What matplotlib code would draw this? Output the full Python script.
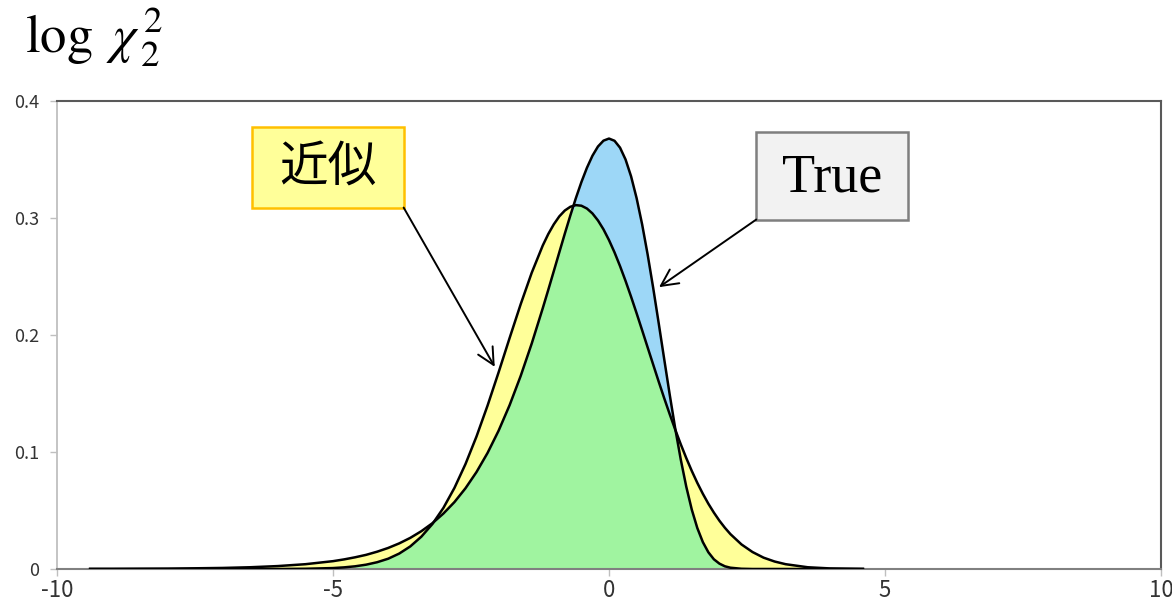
import numpy as np
import matplotlib
matplotlib.use("Agg")
import matplotlib.pyplot as plt
from matplotlib.patches import Rectangle

plt.rcParams['mathtext.fontset'] = 'stix'

# ---- data ----
x_vals = [-9.4, -9.0, -8.5, -8.0, -7.5, -7.0, -6.5, -6.0, -5.5, -5.0,
          -4.8, -4.6, -4.4, -4.2, -4.0, -3.8, -3.6, -3.4, -3.2, -3.0,
          -2.8, -2.6, -2.4, -2.2, -2.0, -1.8, -1.6, -1.4, -1.2, -1.1,
          -1.0, -0.9, -0.8, -0.7, -0.6, -0.5, -0.4, -0.3, -0.2, -0.1,
          0.0, 0.1, 0.2, 0.3, 0.4, 0.5, 0.6, 0.7, 0.8, 0.9,
          1.0, 1.1, 1.2, 1.3, 1.4, 1.5, 1.6, 1.7, 1.8, 1.9,
          2.0, 2.1, 2.2, 2.4, 2.6, 2.8, 3.0, 3.2, 3.6, 4.0, 4.6]

true_density = [0.0001, 0.0001, 0.0002, 0.0003, 0.0006, 0.0009, 0.0015, 0.0025, 0.0041, 0.0067,
                0.0082, 0.0100, 0.0121, 0.0148, 0.0180, 0.0219, 0.0266, 0.0323, 0.0391, 0.0474,
                0.0572, 0.0690, 0.0829, 0.0992, 0.1182, 0.1401, 0.1650, 0.1927, 0.2229, 0.2386,
                0.2546, 0.2707, 0.2867, 0.3022, 0.3170, 0.3307, 0.3429, 0.3532, 0.3611, 0.3661,
                0.3679, 0.3660, 0.3601, 0.3500, 0.3356, 0.3170, 0.2946, 0.2688, 0.2404, 0.2102,
                0.1794, 0.1490, 0.1200, 0.0936, 0.0703, 0.0507, 0.0350, 0.0230, 0.0143, 0.0083,
                0.0046, 0.0023, 0.0011, 0.0002, 0.0000, 0.0000, 0.0000, 0.0000, 0.0000, 0.0000, 0.0000]

approx_density = [0.0000, 0.0000, 0.0000, 0.0000, 0.0000, 0.0000, 0.0000, 0.0000, 0.0002, 0.0008,
                  0.0014, 0.0023, 0.0037, 0.0058, 0.0088, 0.0132, 0.0193, 0.0276, 0.0384, 0.0522,
                  0.0693, 0.0897, 0.1133, 0.1397, 0.1681, 0.1975, 0.2263, 0.2532, 0.2765, 0.2863,
                  0.2946, 0.3014, 0.3064, 0.3096, 0.3110, 0.3105, 0.3081, 0.3039, 0.2979, 0.2903,
                  0.2811, 0.2706, 0.2589, 0.2462, 0.2327, 0.2186, 0.2041, 0.1894, 0.1748, 0.1602,
                  0.1460, 0.1323, 0.1191, 0.1066, 0.0948, 0.0838, 0.0736, 0.0643, 0.0558, 0.0482,
                  0.0413, 0.0352, 0.0298, 0.0210, 0.0145, 0.0097, 0.0064, 0.0041, 0.0015, 0.0005, 0.0001]

x_ticks = [-10, -5, 0, 5, 10]
y_ticks = [0, 0.1, 0.2, 0.3, 0.4]
y_tick_labels = ['0', '0.1', '0.2', '0.3', '0.4']
title_text = r'$\log\ \chi_{\,2}^{\,2}$'
label_approx = '近似'
label_true = 'True'
blue_from_x = -3.2   # blue shading only shown where the true peak rises above the approximation

# ---- figure ----
W, H = 1172, 604
fig = plt.figure(figsize=(W / 100, H / 100), dpi=100)
L, R, T, B = 57, 1161, 101, 569
ax = fig.add_axes([L / W, 1 - B / H, (R - L) / W, (B - T) / H])

x = np.array(x_vals)
yt = np.array(true_density)
ya = np.array(approx_density)

blue = '#9DD7F7'
yellow = '#FFFF99'
green = '#A0F4A0'

ax.fill_between(x, 0, np.maximum(yt, ya), color=yellow, lw=0, zorder=1)
ax.fill_between(x, 0, yt, where=x >= blue_from_x, color=blue, lw=0, zorder=1.1)
ax.fill_between(x, 0, np.minimum(yt, ya), color=green, lw=0, zorder=1.2)
ax.plot(x, ya, color='black', lw=1.8, zorder=3, solid_joinstyle='round')
ax.plot(x, yt, color='black', lw=1.8, zorder=3, solid_joinstyle='round')

ax.set_xlim(-10, 10)
ax.set_ylim(0, 0.4)
ax.set_xticks(x_ticks)
ax.set_xticklabels([str(v) for v in x_ticks])
ax.set_yticks(y_ticks)
ax.set_yticklabels(y_tick_labels)

ax.tick_params(axis='y', length=5, width=1, color='#BFBFBF', pad=8,
               labelsize=13, labelcolor='#333333', labelfontfamily='Noto Sans CJK JP')
ax.tick_params(axis='x', length=5, width=1, color='#BFBFBF', pad=2,
               labelsize=16, labelcolor='#333333', labelfontfamily='Noto Sans CJK JP')

ax.spines['left'].set_color('#BFBFBF')
ax.spines['left'].set_linewidth(1.3)
ax.spines['top'].set_color('#595959')
ax.spines['top'].set_linewidth(1.5)
ax.spines['right'].set_color('#595959')
ax.spines['right'].set_linewidth(1.5)
ax.spines['bottom'].set_color('#808080')
ax.spines['bottom'].set_linewidth(1.5)
for s in ax.spines.values():
    s.set_zorder(2.5)

# title
fig.text(25 / W, 1 - 53 / H, title_text, fontsize=38, ha='left', va='baseline')

# annotation boxes (data coordinates)
box_a = (-6.46, 0.3089, 2.74, 0.0690)   # x, y, w, h
box_t = (2.668, 0.2987, 2.74, 0.0749)
ax.add_patch(Rectangle(box_a[:2], box_a[2], box_a[3], facecolor='#FFFF99',
                       edgecolor='#FFC000', lw=1.8, zorder=5, clip_on=False))
ax.add_patch(Rectangle(box_t[:2], box_t[2], box_t[3], facecolor='#F2F2F2',
                       edgecolor='#7F7F7F', lw=1.8, zorder=5, clip_on=False))
ax.text(box_a[0] + box_a[2] / 2, box_a[1] + box_a[3] / 2, label_approx,
        fontsize=35, family=['Noto Sans CJK JP', 'DejaVu Sans'],
        ha='center', va='center', zorder=6)
ax.text(box_t[0] + box_t[2] / 2, box_t[1] + box_t[3] / 2 - 0.002, label_true,
        fontsize=39, family=['Liberation Serif', 'DejaVu Serif'],
        ha='center', va='center', zorder=6)

arrow_kw = dict(arrowstyle='->', lw=1.4, color='black', mutation_scale=30,
                shrinkA=0, shrinkB=0)
ax.annotate('', xy=(-2.07, 0.1728), xytext=(box_a[0] + box_a[2], box_a[1]),
            arrowprops=arrow_kw, zorder=6)
ax.annotate('', xy=(0.907, 0.2409), xytext=(box_t[0], box_t[1]),
            arrowprops=arrow_kw, zorder=6)

fig.savefig('out.png', dpi=100)
